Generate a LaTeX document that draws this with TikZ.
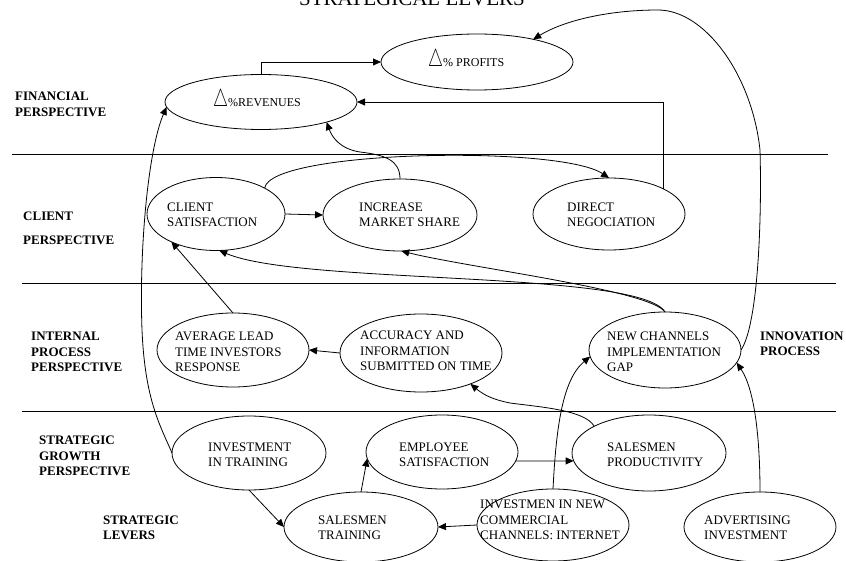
\documentclass[tikz,border=0pt]{standalone}
\usepackage{fontspec}
\setmainfont{Liberation Serif}
\usepackage{graphicx}
\usetikzlibrary{shapes.geometric,arrows.meta,calc}
\newcommand{\mytri}{\resizebox{15pt}{17pt}{$\triangle$}}
\begin{document}
\begin{tikzpicture}[x=1pt,y=-1pt,
  oval/.style={ellipse,draw,line width=0.8pt,inner sep=0pt,outer sep=0pt},
  txt/.style={anchor=west,align=left,inner sep=0pt,font=\fontsize{13}{15.5}\selectfont},
  lbl/.style={anchor=west,align=left,inner sep=0pt,font=\fontsize{13}{15.5}\selectfont\bfseries},
  conn/.style={line width=0.8pt},
  arr/.style={conn,-{Triangle[length=8pt,width=7pt]}},
  sepline/.style={line width=0.8pt}]
\useasboundingbox (0,0) rectangle (846,561);

% title
\node[font=\fontsize{21}{21}\selectfont,anchor=base,inner sep=0pt] (title) at (412,6) {STRATEGICAL LEVERS};

% separator lines
\coordinate (s1a) at (12,154); \coordinate (s1b) at (828,154);
\coordinate (s2a) at (22,283); \coordinate (s2b) at (836,283);
\coordinate (s3a) at (22,411); \coordinate (s3b) at (836,411);
\draw[sepline] (s1a) -- (s1b);
\draw[sepline] (s2a) -- (s2b);
\draw[sepline] (s3a) -- (s3b);

% perspective labels
\node[lbl] (fin) at (15,104.5) {FINANCIAL\\PERSPECTIVE};
\node[lbl] (cli) at (23,228) {CLIENT\\[8.5pt]PERSPECTIVE};
\node[lbl] (int) at (31,352) {INTERNAL\\PROCESS\\PERSPECTIVE};
\node[lbl] (inn) at (760,344) {INNOVATION\\PROCESS};
\node[lbl] (sgp) at (39,456) {STRATEGIC\\GROWTH\\PERSPECTIVE};
\node[lbl] (slv) at (103,528) {STRATEGIC\\LEVERS};

% ellipses
\node[oval,minimum width=192pt,minimum height=56pt] (prof) at (477,62) {};
\node[oval,minimum width=192pt,minimum height=55pt] (rev) at (261,102) {};
\node[oval,minimum width=138pt,minimum height=73pt] (cs) at (216,214) {};
\node[oval,minimum width=154pt,minimum height=72pt] (ims) at (400,215) {};
\node[oval,minimum width=152pt,minimum height=72pt] (dn) at (609,214) {};
\node[oval,minimum width=152pt,minimum height=74pt] (avg) at (233,350) {};
\node[oval,minimum width=162pt,minimum height=78pt] (acc) at (421,353) {};
\node[oval,minimum width=152pt,minimum height=76pt] (ncg) at (665,350) {};
\node[oval,minimum width=154pt,minimum height=74pt] (it) at (249,453) {};
\node[oval,minimum width=152pt,minimum height=74pt] (es) at (442,452) {};
\node[oval,minimum width=154pt,minimum height=76pt] (spr) at (649,453) {};
\node[oval,minimum width=154pt,minimum height=70pt] (st) at (361,527) {};
\node[oval,minimum width=152pt,minimum height=72pt] (nic) at (553,525) {};
\node[oval,minimum width=152pt,minimum height=70pt] (adv) at (760,527) {};

% ellipse texts
\node[anchor=base west,inner sep=0pt,font=\fontsize{12}{14}\selectfont] (prof-t) at (428,67) {\mytri\% PROFITS};
\node[anchor=base west,inner sep=0pt,font=\fontsize{12}{14}\selectfont] (rev-t) at (213,107) {\mytri\%REVENUES};
\node[txt] (cs-t) at (167,215) {CLIENT\\SATISFACTION};
\node[txt] (ims-t) at (359,215) {INCREASE\\MARKET SHARE};
\node[txt] (dn-t) at (567,215) {DIRECT\\NEGOCIATION};
\node[txt] (avg-t) at (175,352) {AVERAGE LEAD\\TIME INVESTORS\\RESPONSE};
\node[txt] (acc-t) at (360,351) {ACCURACY AND\\INFORMATION\\SUBMITTED ON TIME};
\node[txt] (ncg-t) at (607,352) {NEW CHANNELS\\IMPLEMENTATION\\GAP};
\node[txt] (it-t) at (208,455) {INVESTMENT\\IN TRAINING};
\node[txt] (es-t) at (399,455) {EMPLOYEE\\SATISFACTION};
\node[txt] (spr-t) at (607,455) {SALESMEN\\PRODUCTIVITY};
\node[txt] (st-t) at (318,528) {SALESMEN\\TRAINING};
\node[txt] (nic-t) at (480,520) {INVESTMEN IN NEW\\COMMERCIAL\\CHANNELS: INTERNET};
\node[txt] (adv-t) at (704,528) {ADVERTISING\\INVESTMENT};

% connectors
\draw[arr] (rev.north) |- (prof.west);
\draw[arr] (dn.25) |- (rev.east);
\draw[arr] (it.west) .. controls (160,425) and (145,400) .. (142,330)
  .. controls (139,250) and (148,150) .. (rev.183);
\draw[arr] (ims.north) .. controls (400,160) and (385,155) .. (360,152)
  .. controls (340,149) and (332,137) .. (rev.-17);
\draw[arr] (cs.east) -- (ims.west);
\draw[arr] (cs.28) .. controls (270,150) and (560,145) .. (dn.north);
\draw[arr] (avg.north) -- (cs.212);
\draw[arr] (ncg.north) .. controls (640,270) and (300,285) .. (cs.-85);
\draw[arr] (ncg.north) .. controls (650,290) and (470,268) .. (ims.-88);
\draw[arr] (acc.west) -- (avg.east);
\draw[arr] (spr.154) .. controls (585,410) and (540,407) .. (510,403)
  .. controls (495,400) and (485,396) .. (acc.-32);
\draw[arr] (nic.north) .. controls (556,430) and (562,380) .. (ncg.185);
\draw[arr] (adv.north) .. controls (760,440) and (755,390) .. (ncg.-10);
\draw[arr] (ncg.east) .. controls (758,325) and (762,220) .. (760,150)
  .. controls (752,75) and (705,10) .. (658,10)
  .. controls (610,10) and (565,20) .. (prof.22);
\draw[arr] (it.south) -- (st.west);
\draw[arr] (st.north) -- (es.185);
\draw[arr] (es.-7) -- (spr.186);
\draw[arr] (nic.west) -- (st.east);
\end{tikzpicture}
\end{document}
